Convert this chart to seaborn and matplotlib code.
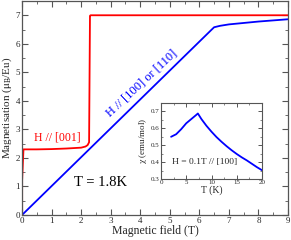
import matplotlib
matplotlib.use("Agg")
import matplotlib.pyplot as plt
from matplotlib.ticker import MultipleLocator
import seaborn as sns
import pandas as pd

# Main panel data (T = 1.8 K)
H_001 = [0, 0, 0.05, 0.5, 1.0, 1.5, 2.0, 2.15, 2.22, 2.27, 2.3, 2.32, 9.0]
M_001 = [0, 2.28, 2.30, 2.30, 2.31, 2.33, 2.36, 2.40, 2.45, 2.55, 6.98, 7.0, 7.0]
H_100 = [0, 6.4, 6.5, 6.7, 7.0, 8.0, 9.0]
M_100 = [0, 6.48, 6.58, 6.63, 6.68, 6.78, 6.86]

# Inset data (H = 0.1 T // [100])
T_inset = [2, 3, 4, 5, 6, 7, 7.3, 8, 9, 10, 11, 12, 13, 14, 15, 16, 17, 18, 19, 20]
chi_inset = [0.55, 0.565, 0.595, 0.63, 0.655, 0.68, 0.688, 0.655, 0.615, 0.58, 0.548,
             0.52, 0.494, 0.47, 0.448, 0.428, 0.41, 0.39, 0.37, 0.352]

sns.set_style("ticks")
plt.rcParams['font.family'] = ['Liberation Serif', 'DejaVu Serif']
plt.rcParams['mathtext.fontset'] = 'stix'

fig = plt.figure(figsize=(2.91, 2.40), dpi=100)
ax = fig.add_axes([22/291, 1-215/240, (288-22)/291, (215-1)/240])

df1 = pd.DataFrame({"H": H_001, "M": M_001})
df2 = pd.DataFrame({"H": H_100, "M": M_100})
sns.lineplot(data=df1, x="H", y="M", sort=False, color="#ff0000", lw=1.3, ax=ax)
sns.lineplot(data=df2, x="H", y="M", sort=False, color="#0000ff", lw=1.3, ax=ax)

ax.set_xlim(0, 9)
ax.set_ylim(0, 7.5)
ax.xaxis.set_major_locator(MultipleLocator(1))
ax.xaxis.set_minor_locator(MultipleLocator(0.5))
ax.yaxis.set_major_locator(MultipleLocator(1))
ax.yaxis.set_minor_locator(MultipleLocator(0.5))
ax.tick_params(which="both", direction="in", top=True, right=True, labelsize=6.5,
               color="#555555", pad=1.5)
ax.tick_params(which="major", length=4, width=0.8)
ax.tick_params(which="minor", length=2, width=0.6)
for s in ax.spines.values():
    s.set_color("#555555")
    s.set_linewidth(0.9)
ax.set_xlabel("Magnetic field (T)", fontsize=8.5, labelpad=0)
ax.set_ylabel(r"Magnetisation ($\mathrm{\mu_B}$/Eu)", fontsize=8, labelpad=1)

ax.text(1.2, 2.72, "H // [001]", color="#ff0000", fontsize=8.5, ha="center", va="center")
ax.text(4.05, 4.6, "H // [100] or [110]", color="#0000ff", fontsize=9, ha="center",
        va="center", rotation=43, rotation_mode="anchor")
ax.text(2.67, 1.13, "T = 1.8K", color="black", fontsize=10.5, ha="center", va="center")

# Inset
axi = fig.add_axes([161/291, 1-179/240, (262-161)/291, (179-103)/240])
dfi = pd.DataFrame({"T": T_inset, "chi": chi_inset})
sns.lineplot(data=dfi, x="T", y="chi", sort=False, color="#0000ff", lw=1.3, ax=axi)
axi.set_xlim(0, 20)
axi.set_ylim(0.3, 0.75)
axi.xaxis.set_major_locator(MultipleLocator(5))
axi.xaxis.set_minor_locator(MultipleLocator(2.5))
axi.yaxis.set_major_locator(MultipleLocator(0.1))
axi.yaxis.set_minor_locator(MultipleLocator(0.05))
axi.tick_params(which="both", direction="in", top=True, right=True, labelsize=5,
                color="#555555", pad=1)
axi.tick_params(which="major", length=3, width=0.7)
axi.tick_params(which="minor", length=1.5, width=0.5)
for s in axi.spines.values():
    s.set_color("#555555")
    s.set_linewidth(0.8)
axi.set_xlabel("T (K)", fontsize=7, labelpad=0)
axi.set_ylabel(r"$\mathrm{\chi}$ (emu/mol)", fontsize=6.5, labelpad=1)
axi.text(2.2, 0.40, "H = 0.1T // [100]", fontsize=6.8, ha="left", va="center")

fig.savefig("out.png", dpi=100)
